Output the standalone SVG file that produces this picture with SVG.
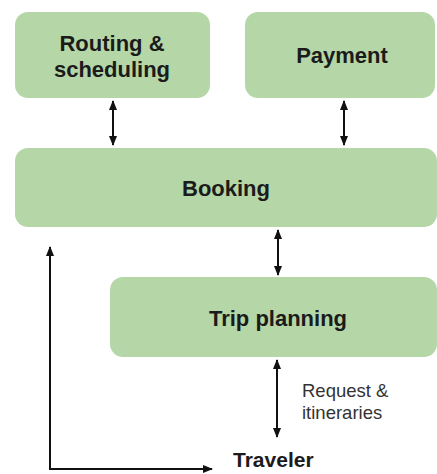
<svg xmlns="http://www.w3.org/2000/svg" width="437" height="474" viewBox="0 0 437 474">
<defs>
<marker id="ah" markerWidth="10" markerHeight="12" refX="9" refY="5" orient="auto-start-reverse" markerUnits="userSpaceOnUse">
<path d="M0,1 L10,5 L0,9 Z" fill="#111"/>
</marker>
</defs>
<style>
.box{fill:#b5d7a8}
.lbl{font-family:"Liberation Sans",Arial,sans-serif;font-weight:bold;font-size:22px;fill:#1b1b1b;text-anchor:middle}
.plain{font-family:"Liberation Sans",Arial,sans-serif;font-size:18.5px;fill:#333}
.conn{stroke:#111;stroke-width:2;fill:none}
</style>
<rect width="437" height="474" fill="#fff"/>
<g id="routing">
<rect class="box" x="15" y="12" width="195" height="86" rx="13"/>
<text class="lbl" x="112" y="51">Routing &amp;</text>
<text class="lbl" x="112" y="77">scheduling</text>
</g>
<g id="payment">
<rect class="box" x="245" y="12" width="190" height="86" rx="13"/>
<text class="lbl" x="342" y="63">Payment</text>
</g>
<g id="booking">
<rect class="box" x="15" y="148" width="422" height="79" rx="13"/>
<text class="lbl" x="226" y="196">Booking</text>
</g>
<g id="trip">
<rect class="box" x="110" y="277" width="327" height="80" rx="13"/>
<text class="lbl" x="278" y="326">Trip planning</text>
</g>
<g id="traveler">
<text class="lbl" x="233" y="467" style="font-size:21px;text-anchor:start">Traveler</text>
</g>
<g id="connectors">
<line class="conn" x1="113" y1="101" x2="113" y2="145" marker-start="url(#ah)" marker-end="url(#ah)"/>
<line class="conn" x1="344" y1="101" x2="344" y2="145" marker-start="url(#ah)" marker-end="url(#ah)"/>
<line class="conn" x1="278" y1="230" x2="278" y2="275" marker-start="url(#ah)" marker-end="url(#ah)"/>
<line class="conn" x1="277" y1="360" x2="277" y2="437" marker-start="url(#ah)" marker-end="url(#ah)"/>
<polyline class="conn" points="50,247 50,469 212,469" marker-start="url(#ah)" marker-end="url(#ah)"/>
<text class="plain" x="302" y="397">Request &amp;</text>
<text class="plain" x="302" y="419">itineraries</text>
</g>
</svg>
